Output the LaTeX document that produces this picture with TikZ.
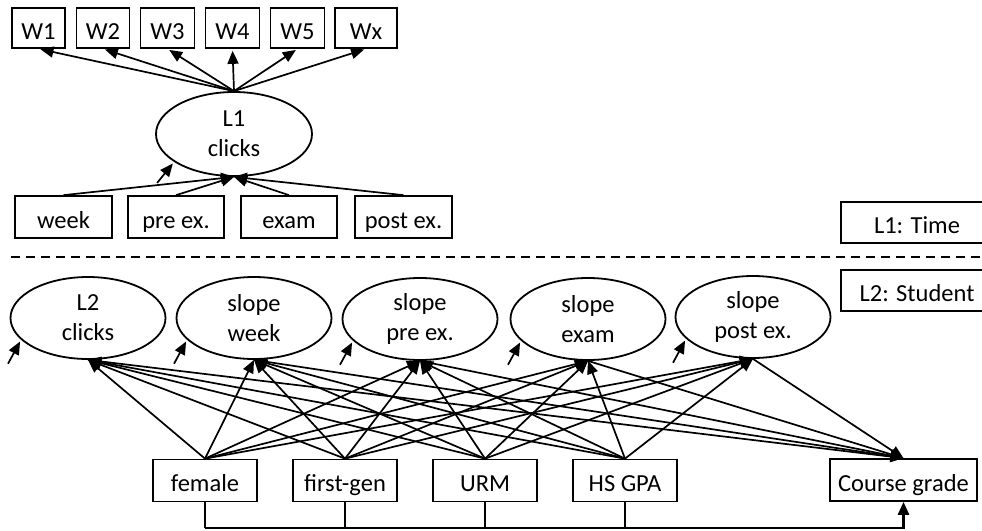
\documentclass[tikz,border=0pt]{standalone}
\usepackage{fontspec}
\setmainfont{Carlito}
\usetikzlibrary{shapes.geometric,arrows.meta}
\begin{document}
\begin{tikzpicture}[x=1pt,y=-1pt,line width=1.7pt,
  txt/.style={font=\fontsize{24.5}{30}\selectfont},
  box/.style={draw,txt,inner sep=0pt,minimum height=40pt,text height=22pt,text depth=0pt},
  ell/.style={draw,ellipse,txt,inner sep=0pt,minimum width=155pt,minimum height=82pt,align=center,line width=1.8pt},
  arr/.style={-{Triangle[length=13pt,width=11pt]}},
]
\useasboundingbox (0,0) rectangle (982,530);
\clip (0,0) rectangle (982,530);
% level 1
\node[box,minimum width=53pt] (w1) at (38.5,28) {W1};
\node[box,minimum width=53pt] (w2) at (103,28) {W2};
\node[box,minimum width=54pt] (w3) at (167.5,28) {W3};
\node[box,minimum width=54pt] (w4) at (232.5,28) {W4};
\node[box,minimum width=54pt] (w5) at (297.5,28) {W5};
\node[box,minimum width=62pt] (wx) at (366,28) {Wx};
\node[ell,minimum width=156pt,minimum height=84pt] (L1) at (234,134) {L1\\clicks};
\node[box,minimum width=97pt,minimum height=42pt] (week) at (63.5,217) {week};
\node[box,minimum width=96pt,minimum height=42pt] (pre) at (176,217) {pre ex.};
\node[box,minimum width=96pt,minimum height=42pt] (exam) at (289,217) {exam};
\node[box,minimum width=97pt,minimum height=42pt] (post) at (403.5,217) {post ex.};
\foreach \w in {w1,w2,w3,w4,w5,wx} \draw[arr,shorten >=2pt] (L1.north) -- (\w.south);
\foreach \b in {week,pre,exam,post} \draw[arr] (\b.north) -- (L1.south);
\draw[arr,shorten >=2pt] ([shift={(-17pt,-21pt)}]L1.205) -- (L1.205);
% level labels
\node[box,minimum width=152pt,minimum height=41pt] (t1) at (917,222.5) {L1: Time};
\node[box,minimum width=152pt,minimum height=41pt] (t2) at (917,290.5) {L2: Student};
\draw[dash pattern=on 9pt off 6pt,line width=1.4pt] (11,257) -- (982,257);
% level 2
\node[ell] (e1) at (88,318) {L2\\clicks};
\node[ell] (e2) at (254,318) {slope\\week};
\node[ell] (e3) at (420,319) {slope\\pre ex.};
\node[ell] (e4) at (588,319) {slope\\exam};
\node[ell] (e5) at (753,317) {slope\\post ex.};
\node[box,minimum width=104pt,minimum height=42pt] (fem) at (205,480.5) {female};
\node[box,minimum width=104pt,minimum height=42pt] (fg) at (345,480.5) {first-gen};
\node[box,minimum width=104pt,minimum height=42pt] (urm) at (485,480.5) {URM};
\node[box,minimum width=104pt,minimum height=42pt] (gpa) at (625,480.5) {HS GPA};
\node[box,minimum width=147pt,minimum height=42pt] (grade) at (903.5,480) {Course grade};
\foreach \e in {e1,e2,e3,e4,e5} {
  \draw[arr,shorten >=2pt] ([shift={(-13pt,-24pt)}]\e.198) -- (\e.198);
  \foreach \p in {fem,fg,urm,gpa} \draw[arr] (\p.north) -- (\e.south);
  \draw[arr] (\e.south) -- (grade.north);
}
\coordinate (base) at (grade.south |- 0,528);
\foreach \p in {fem,fg,urm,gpa} \draw (\p.south) -- (\p.south |- base);
\draw[arr,line width=2.6pt] (fem.south |- base) -- (base) -- (grade.south);
\end{tikzpicture}
\end{document}
